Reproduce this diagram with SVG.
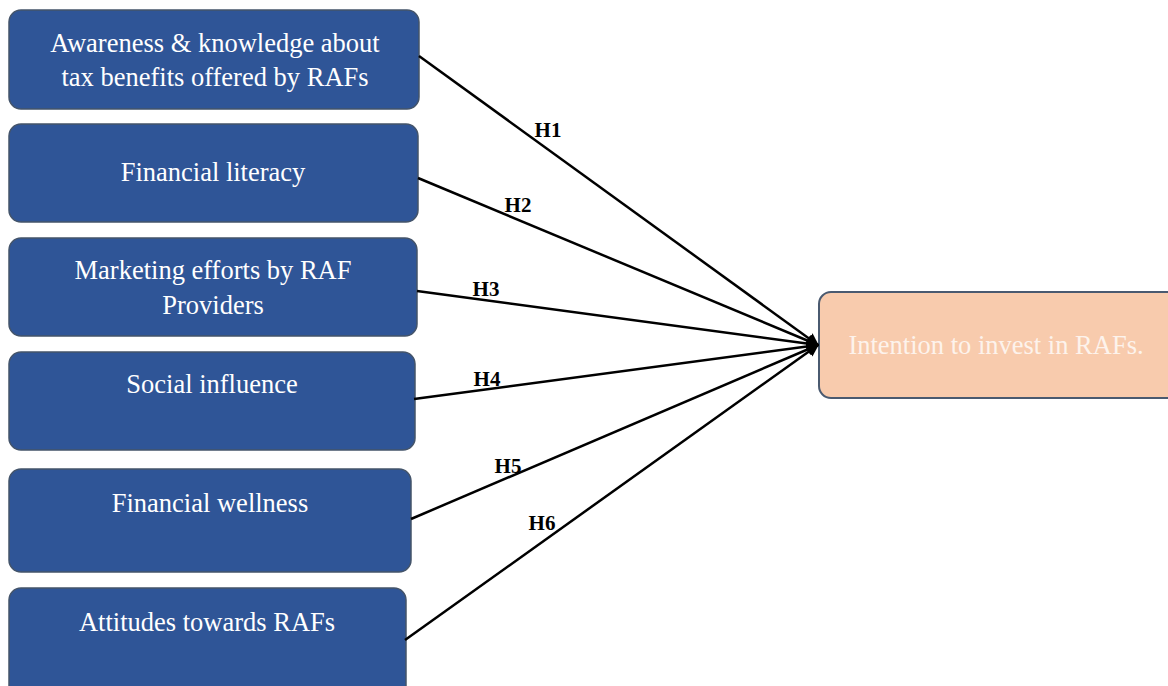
<svg xmlns="http://www.w3.org/2000/svg" width="1168" height="686" viewBox="0 0 1168 686">
<style>
.src{fill:#2F5597;stroke:#44546A;stroke-width:1.5}
.tgt{fill:#F8CBAD;stroke:#4A5A70;stroke-width:2}
.t{font-family:"Liberation Serif",serif;font-size:26.5px;fill:#ffffff;text-anchor:middle}
.tt{font-family:"Liberation Serif",serif;font-size:26.5px;fill:#FDF3EC;text-anchor:middle}
.lbl{font-family:"Liberation Serif",serif;font-size:21px;font-weight:bold;fill:#000;text-anchor:middle}
.c{stroke:#000;stroke-width:2.5;fill:none;marker-end:url(#ah)}
</style>
<defs>
<marker id="ah" viewBox="0 0 10 10" refX="9" refY="5" markerWidth="5" markerHeight="5" orient="auto" markerUnits="strokeWidth">
<path d="M0,0 L10,5 L0,10 z" fill="#000"/>
</marker>
</defs>
<rect width="1168" height="686" fill="#ffffff"/>
<g id="n1"><rect class="src" x="9" y="10" width="410" height="99" rx="12"/><text class="t" x="215" y="52">Awareness &amp; knowledge about</text><text class="t" x="215" y="86">tax benefits offered by RAFs</text></g>
<g id="n2"><rect class="src" x="9" y="124" width="409" height="98" rx="12"/><text class="t" x="213" y="181">Financial literacy</text></g>
<g id="n3"><rect class="src" x="9" y="238" width="408" height="98" rx="12"/><text class="t" x="213" y="279">Marketing efforts by RAF</text><text class="t" x="213" y="314">Providers</text></g>
<g id="n4"><rect class="src" x="9" y="352" width="406" height="98" rx="12"/><text class="t" x="212" y="393">Social influence</text></g>
<g id="n5"><rect class="src" x="9" y="469" width="402" height="103" rx="12"/><text class="t" x="210" y="512">Financial wellness</text></g>
<g id="n6"><rect class="src" x="9" y="588" width="397" height="110" rx="12"/><text class="t" x="207" y="631">Attitudes towards RAFs</text></g>
<g id="target"><rect class="tgt" x="819" y="292" width="360" height="106" rx="12"/><text class="tt" x="996" y="354">Intention to invest in RAFs.</text></g>
<g id="connectors">
<line class="c" x1="419" y1="56" x2="818" y2="345"/>
<line class="c" x1="418" y1="178" x2="818" y2="345"/>
<line class="c" x1="417" y1="291" x2="818" y2="345"/>
<line class="c" x1="414" y1="399" x2="818" y2="345"/>
<line class="c" x1="411" y1="519" x2="818" y2="345"/>
<line class="c" x1="405" y1="640" x2="818" y2="345"/>
<text class="lbl" x="548" y="137">H1</text>
<text class="lbl" x="518" y="212">H2</text>
<text class="lbl" x="486" y="296">H3</text>
<text class="lbl" x="487" y="386">H4</text>
<text class="lbl" x="508" y="473">H5</text>
<text class="lbl" x="542" y="530">H6</text>
</g>
</svg>
